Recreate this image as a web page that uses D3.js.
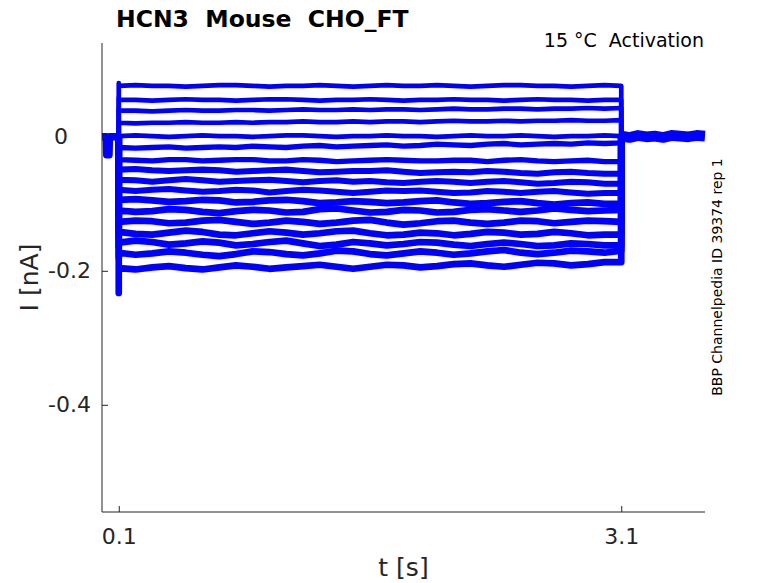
<!DOCTYPE html>
<html>
<head>
<meta charset="utf-8">
<script src="https://d3js.org/d3.v7.min.js"></script>
<style>
body { margin: 0; background: #fff; }
text { font-family: "DejaVu Sans", sans-serif; white-space: pre; }
</style>
</head>
<body>
<div id="chart"></div>
<script>
// HCN3 activation sweeps, currents in nA

// sample times during the voltage step (s)
var tStep = [0.1,0.2,0.3,0.4,0.5,0.6,0.7,0.8,0.9,1.0,1.1,1.2,1.3,1.4,1.5,1.6,1.7,1.8,1.9,2.0,2.1,2.2,2.3,2.4,2.5,2.6,2.7,2.8,2.9,3.0,3.1];

var s1 = [0.076,0.077,0.076,0.076,0.075,0.076,0.077,0.077,0.076,0.075,0.076,0.076,0.077,0.076,0.075,0.076,0.077,0.076,0.076,0.077,0.076,0.075,0.076,0.077,0.077,0.076,0.076,0.075,0.076,0.077,0.076];
var s2 = [0.055,0.055,0.054,0.055,0.056,0.055,0.055,0.054,0.055,0.056,0.056,0.055,0.054,0.055,0.055,0.056,0.055,0.054,0.055,0.055,0.056,0.055,0.055,0.054,0.055,0.056,0.055,0.055,0.054,0.055,0.055];
var s3 = [0.039,0.039,0.038,0.039,0.040,0.039,0.039,0.040,0.040,0.039,0.040,0.041,0.040,0.040,0.041,0.040,0.041,0.041,0.040,0.041,0.042,0.041,0.041,0.042,0.042,0.041,0.042,0.042,0.043,0.042,0.043];
var s4 = [0.021,0.020,0.021,0.021,0.022,0.021,0.021,0.022,0.021,0.022,0.022,0.023,0.022,0.022,0.023,0.022,0.023,0.023,0.022,0.023,0.024,0.023,0.023,0.024,0.023,0.024,0.024,0.025,0.024,0.024,0.025];
var s5 = [0.001,0.002,0.001,0.000,0.001,0.002,0.001,0.001,0.000,0.001,0.002,0.002,0.001,0.000,0.001,0.001,0.002,0.001,0.001,0.000,0.001,0.002,0.001,0.001,0.002,0.001,0.000,0.001,0.001,0.002,0.001];
var s6 = [-0.016,-0.017,-0.016,-0.015,-0.017,-0.016,-0.015,-0.016,-0.014,-0.015,-0.016,-0.014,-0.013,-0.015,-0.014,-0.013,-0.012,-0.014,-0.013,-0.011,-0.012,-0.013,-0.011,-0.010,-0.012,-0.011,-0.010,-0.011,-0.009,-0.010,-0.009];
var s7 = [-0.034,-0.035,-0.036,-0.034,-0.034,-0.036,-0.035,-0.034,-0.034,-0.036,-0.036,-0.034,-0.035,-0.037,-0.036,-0.035,-0.034,-0.035,-0.036,-0.036,-0.035,-0.035,-0.037,-0.035,-0.034,-0.036,-0.037,-0.036,-0.035,-0.037,-0.037];
var s8 = [-0.049,-0.048,-0.050,-0.051,-0.050,-0.049,-0.050,-0.052,-0.051,-0.050,-0.049,-0.051,-0.053,-0.052,-0.051,-0.051,-0.050,-0.052,-0.054,-0.053,-0.052,-0.053,-0.051,-0.052,-0.054,-0.055,-0.053,-0.052,-0.054,-0.055,-0.055];
var s9 = [-0.064,-0.065,-0.067,-0.065,-0.063,-0.065,-0.067,-0.066,-0.065,-0.064,-0.066,-0.068,-0.066,-0.065,-0.067,-0.066,-0.068,-0.069,-0.067,-0.066,-0.067,-0.069,-0.067,-0.066,-0.068,-0.070,-0.069,-0.067,-0.068,-0.070,-0.070];
var s10 = [-0.079,-0.081,-0.079,-0.078,-0.080,-0.082,-0.081,-0.079,-0.080,-0.083,-0.081,-0.079,-0.080,-0.082,-0.084,-0.082,-0.080,-0.081,-0.080,-0.082,-0.084,-0.083,-0.081,-0.082,-0.084,-0.082,-0.081,-0.083,-0.085,-0.084,-0.084];
var s11 = [-0.094,-0.093,-0.095,-0.097,-0.096,-0.094,-0.095,-0.098,-0.097,-0.095,-0.094,-0.096,-0.099,-0.098,-0.096,-0.097,-0.099,-0.098,-0.096,-0.095,-0.098,-0.100,-0.099,-0.097,-0.096,-0.099,-0.101,-0.099,-0.098,-0.100,-0.100];
var s12 = [-0.110,-0.112,-0.111,-0.108,-0.109,-0.112,-0.114,-0.111,-0.109,-0.110,-0.113,-0.112,-0.108,-0.107,-0.110,-0.113,-0.112,-0.109,-0.110,-0.113,-0.112,-0.109,-0.108,-0.110,-0.112,-0.110,-0.107,-0.109,-0.111,-0.110,-0.109];
var s13 = [-0.127,-0.125,-0.126,-0.129,-0.128,-0.125,-0.124,-0.127,-0.130,-0.128,-0.125,-0.127,-0.130,-0.128,-0.125,-0.124,-0.128,-0.131,-0.129,-0.126,-0.125,-0.128,-0.130,-0.128,-0.125,-0.126,-0.129,-0.127,-0.125,-0.126,-0.127];
var s14 = [-0.142,-0.145,-0.146,-0.143,-0.140,-0.142,-0.146,-0.147,-0.144,-0.141,-0.143,-0.146,-0.144,-0.141,-0.140,-0.144,-0.147,-0.146,-0.143,-0.144,-0.147,-0.145,-0.142,-0.143,-0.146,-0.145,-0.142,-0.144,-0.147,-0.146,-0.146];
var s15 = [-0.158,-0.155,-0.157,-0.161,-0.159,-0.156,-0.158,-0.162,-0.160,-0.157,-0.155,-0.159,-0.163,-0.161,-0.157,-0.159,-0.162,-0.160,-0.157,-0.158,-0.161,-0.163,-0.160,-0.158,-0.160,-0.163,-0.162,-0.159,-0.160,-0.162,-0.162];
var s16 = [-0.173,-0.176,-0.174,-0.171,-0.173,-0.176,-0.178,-0.175,-0.171,-0.172,-0.175,-0.177,-0.174,-0.170,-0.171,-0.175,-0.177,-0.174,-0.171,-0.173,-0.176,-0.174,-0.171,-0.169,-0.173,-0.175,-0.173,-0.170,-0.171,-0.173,-0.170];
var s17 = [-0.196,-0.198,-0.195,-0.193,-0.196,-0.198,-0.195,-0.192,-0.194,-0.197,-0.195,-0.193,-0.191,-0.194,-0.197,-0.194,-0.191,-0.192,-0.195,-0.193,-0.190,-0.189,-0.192,-0.194,-0.191,-0.188,-0.189,-0.192,-0.190,-0.187,-0.187];

var sweeps = [s1,s2,s3,s4,s5,s6,s7,s8,s9,s10,s11,s12,s13,s14,s15,s16,s17];

// capacitive peak right at step onset (nA)
var onsetI = [0.080,0.058,0.042,0.024,0.004,-0.018,-0.036,-0.052,-0.067,-0.082,-0.097,-0.114,-0.130,-0.146,-0.163,-0.180,-0.233];

// peak-to-peak noise of each sweep (nA)
var noisePP = [0.007,0.007,0.007,0.007,0.007,0.008,0.008,0.009,0.009,0.009,0.010,0.010,0.010,0.010,0.010,0.010,0.010];

// holding current before the step (with the little test blip) and after it
var preT = [0, 0.025, 0.028, 0.042, 0.045, 0.1];
var preI = [0, 0, -0.027, -0.027, 0, 0];
var preNoise = 0.011;
var postT = [3.1,3.15,3.2,3.25,3.3,3.35,3.4,3.45,3.5,3.55,3.6];
var postI = [0.001,-0.001,0.002,0.000,0.001,-0.001,0.002,0.001,0.000,0.002,0.001];
var postNoise = 0.016;

var xTicks = [0.1, 3.1];
var yTicks = [0, -0.2, -0.4];

var title = "HCN3  Mouse  CHO_FT";
var subTitle = "15 \u00b0C  Activation";
var sideNote = "BBP Channelpedia ID 39374 rep 1";

var width = 778, height = 583;
var padL = 102, padR = 705, padT = 43, padB = 512;
var blue = "#0000ff", ink = "#262626";

var svg = d3.select("#chart").append("svg")
	.attr("width", width)
	.attr("height", height);

var x = d3.scaleLinear().domain([0, 3.6]).range([padL, padR]);
var y = d3.scaleLinear().domain([-0.56, 0.14]).range([padB, padT]);

// converts a noise amplitude to a stroke width in px
function noiseWidth(n){
	return y(0) - y(n);
}

var line = d3.line()
	.x(function(d){ return x(d[0]); })
	.y(function(d){ return y(d[1]); });

var traces = svg.append("g").attr("fill", "none").attr("stroke", blue)
	.attr("stroke-linejoin", "round");

// holding segments, all sweeps sit on top of each other there
traces.append("path")
	.attr("d", line(preT.map(function(t, i){ return [t, preI[i]]; })))
	.attr("stroke-width", noiseWidth(preNoise));
traces.append("path")
	.attr("d", line(postT.map(function(t, i){ return [t, postI[i]]; })))
	.attr("stroke-width", noiseWidth(postNoise));

// the step sweeps
sweeps.forEach(function(s, k){
	var pts = [[tStep[0], 0], [tStep[0], onsetI[k]]];
	for (var i = 0; i < tStep.length; i++) {
		pts.push([tStep[i], s[i]]);
	}
	pts.push([tStep[tStep.length - 1], 0]);
	traces.append("path")
		.attr("d", line(pts))
		.attr("stroke-width", noiseWidth(noisePP[k]));
});

// axes, matlab style with ticks pointing in
var xAxis = svg.append("g")
	.attr("transform", "translate(0," + padB + ")")
	.call(d3.axisBottom(x).tickValues(xTicks).tickSize(-6).tickPadding(16)
		.tickFormat(d3.format(".1f")));
var yAxis = svg.append("g")
	.attr("transform", "translate(" + padL + ",0)")
	.call(d3.axisLeft(y).tickValues(yTicks).tickSize(-6).tickPadding(11)
		.tickFormat(function(d){ return d == 0 ? "0" : d3.format(".1f")(d).replace("\u2212", "-"); }));

[xAxis, yAxis].forEach(function(a){
	a.select(".domain").attr("stroke", ink).attr("stroke-width", 1);
	a.selectAll(".tick line").attr("stroke", ink).attr("stroke-width", 1);
	a.selectAll(".tick text").attr("fill", ink)
		.style("font-size", "22px").style("font-family", "DejaVu Sans");
});
// the zero label sits further left in the original
yAxis.selectAll(".tick text").filter(function(d){ return d == 0; }).attr("dx", -23);

// domain lines only span the plotted area
xAxis.select(".domain").attr("d", "M" + padL + ",0H" + padR);
yAxis.select(".domain").attr("d", "M0," + padT + "V" + padB);

svg.append("text")
	.attr("x", (padL + padR) / 2)
	.attr("y", 576)
	.attr("text-anchor", "middle")
	.attr("fill", ink)
	.style("font-size", "25px")
	.text("t [s]");

svg.append("text")
	.attr("transform", "translate(38," + (padT + padB) / 2 + ") rotate(-90)")
	.attr("text-anchor", "middle")
	.attr("fill", ink)
	.style("font-size", "25px")
	.text("I [nA]");

svg.append("text")
	.attr("x", 116)
	.attr("y", 27)
	.attr("fill", "#000")
	.style("font-size", "23.5px")
	.style("font-weight", "bold")
	.text(title);

svg.append("text")
	.attr("x", 704)
	.attr("y", 47)
	.attr("text-anchor", "end")
	.attr("fill", "#000")
	.style("font-size", "19px")
	.text(subTitle);

svg.append("text")
	.attr("transform", "translate(722,277) rotate(-90)")
	.attr("text-anchor", "middle")
	.attr("fill", "#000")
	.style("font-size", "14px")
	.text(sideNote);
</script>
</body>
</html>
